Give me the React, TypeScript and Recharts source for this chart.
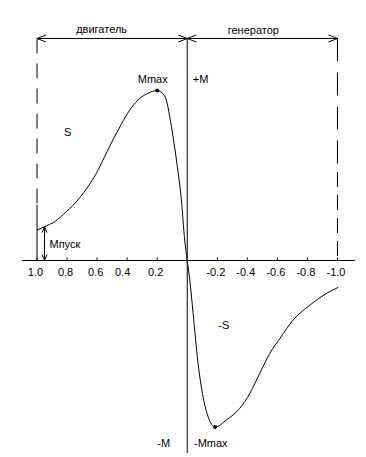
import React from 'react';
import { LineChart, Line, XAxis, YAxis, ReferenceLine, ReferenceDot } from 'recharts';

// slip s (x) and torque M (y, Mmax = 1)
const slip = [1.0, 0.95, 0.883, 0.805, 0.728, 0.661, 0.605, 0.55, 0.495, 0.439, 0.383, 0.328, 0.261, 0.2, 0.15, 0.105, 0.072, 0.039, 0.017, 0,
  -0.017, -0.039, -0.072, -0.105, -0.139, -0.185, -0.261, -0.35, -0.417, -0.483, -0.55, -0.617, -0.705, -0.817, -0.928, -1.005];
const torque = [0.179, 0.199, 0.228, 0.287, 0.356, 0.434, 0.513, 0.611, 0.709, 0.801, 0.885, 0.944, 0.984, 1.0, 0.968, 0.787, 0.591, 0.356, 0.121, 0,
  -0.115, -0.311, -0.605, -0.801, -0.919, -0.98, -0.938, -0.869, -0.781, -0.663, -0.546, -0.458, -0.35, -0.262, -0.193, -0.158];

const tickValues = [1.0, 0.8, 0.6, 0.4, 0.2, -0.2, -0.4, -0.6, -0.8, -1.0];
const tickLabels = ['1.0', '0.8', '0.6', '0.4', '0.2', '-0.2', '-0.4', '-0.6', '-0.8', '-1.0'];

const regionLabels = ['двигатель', 'генератор'];
const regionSlip = [0.57, -0.44];
const regionTorque = [1.338, 1.332];

const maxPoint = { s: 0.2, m: 1.0 };
const minPoint = { s: -0.185, m: -0.98 };
const startArrow = { s: 0.95, m: 0.199 };

const annotationTexts = ['S', '-S', '+M', '-M', 'Mmax', '-Mmax', 'Мпуск'];
const annotationSlip = [0.796, -0.243, -0.037, 0.157, 0.23, -0.157, 0.917];
const annotationTorque = [0.735, -0.403, 1.044, -1.097, 1.044, -1.097, 0.0735];
const annotationAnchor = ['middle', 'middle', 'start', 'middle', 'middle', 'middle', 'start'];

const data = slip.map((s, i) => ({ s, m: torque[i] }));

const X_DOMAIN: [number, number] = [-1.11667, 1.1];
const Y_DOMAIN: [number, number] = [-1.13235, 1.30882];
const TOP_LINE = 1.30588;

const FONT = { fontFamily: '"Liberation Sans", Arial, sans-serif', fontSize: 11, fill: '#000' };

const textShape = (text: string, anchor: string, dx = 0, dy = 0) => (p: any) => (
  <text x={p.cx + dx} y={p.cy + dy} textAnchor={anchor} style={FONT}>{text}</text>
);

const tickShape = (label: string) => (p: any) => (
  <g>
    <line x1={p.cx} y1={p.cy - 3} x2={p.cx} y2={p.cy} stroke="#000" />
    <text x={p.cx - 1.5 + (label === '0.4' ? -3 : 0)} y={p.cy + 15} textAnchor="middle" style={FONT}>{label}</text>
  </g>
);

const arrowLeft = (p: any) => (
  <path d={`M${p.cx + 9},${p.cy - 3.5} L${p.cx},${p.cy} L${p.cx + 9},${p.cy + 3.5}`} fill="none" stroke="#000" />
);
const arrowRight = (p: any) => (
  <path d={`M${p.cx - 9},${p.cy - 3.5} L${p.cx},${p.cy} L${p.cx - 9},${p.cy + 3.5}`} fill="none" stroke="#000" />
);
const arrowBoth = (p: any) => (
  <g>
    {arrowLeft(p)}
    {arrowRight(p)}
  </g>
);
const arrowUp = (p: any) => (
  <path d={`M${p.cx - 2.5},${p.cy + 6} L${p.cx},${p.cy} L${p.cx + 2.5},${p.cy + 6}`} fill="none" stroke="#000" />
);
const arrowDown = (p: any) => (
  <path d={`M${p.cx - 2.5},${p.cy - 6} L${p.cx},${p.cy} L${p.cx + 2.5},${p.cy - 6}`} fill="none" stroke="#000" />
);
const dot = (p: any) => <circle cx={p.cx} cy={p.cy} r={2} fill="#000" />;

export default function App() {
  return (
    <div style={{ position: 'absolute', left: 0, top: 0, background: '#fff' }}>
      <LineChart width={366} height={457} data={data} margin={{ top: 38, right: 11, bottom: 4, left: 22 }}>
        <XAxis type="number" dataKey="s" domain={X_DOMAIN} reversed hide allowDataOverflow />
        <YAxis type="number" domain={Y_DOMAIN} hide allowDataOverflow />

        <ReferenceLine y={0} stroke="#000" ifOverflow="visible" />
        <ReferenceLine x={0} stroke="#000" ifOverflow="visible" />

        {/* dimension line on top */}
        <ReferenceLine segment={[{ x: 1.0, y: TOP_LINE }, { x: -1.0, y: TOP_LINE }]} stroke="#000" ifOverflow="visible" />
        <ReferenceDot x={1.0} y={TOP_LINE} ifOverflow="visible" shape={arrowLeft} />
        <ReferenceDot x={0} y={TOP_LINE} ifOverflow="visible" shape={arrowBoth} />
        <ReferenceDot x={-1.0} y={TOP_LINE} ifOverflow="visible" shape={arrowRight} />

        {/* left boundary s = 1 */}
        <ReferenceLine segment={[{ x: 1.0, y: TOP_LINE }, { x: 1.0, y: 0.327 }]} stroke="#000" strokeDasharray="15 10" ifOverflow="visible" />
        <ReferenceLine segment={[{ x: 1.0, y: 0.327 }, { x: 1.0, y: 0 }]} stroke="#000" ifOverflow="visible" />

        {/* right boundary s = -1 */}
        <ReferenceLine segment={[{ x: -1.0, y: TOP_LINE }, { x: -1.0, y: 0.55 }]} stroke="#000" strokeDasharray="23 11" ifOverflow="visible" />
        <ReferenceLine segment={[{ x: -1.0, y: 0.5206 }, { x: -1.0, y: 0 }]} stroke="#000" strokeDasharray="15 8" ifOverflow="visible" />

        {/* starting torque arrow */}
        <ReferenceLine segment={[{ x: startArrow.s, y: startArrow.m }, { x: startArrow.s, y: 0 }]} stroke="#000" ifOverflow="visible" />
        <ReferenceDot x={startArrow.s} y={startArrow.m} ifOverflow="visible" shape={arrowUp} />
        <ReferenceDot x={startArrow.s} y={0} ifOverflow="visible" shape={arrowDown} />

        {tickValues.map((t, i) => (
          <ReferenceDot key={'t' + i} x={t} y={0} ifOverflow="visible" shape={tickShape(tickLabels[i])} />
        ))}

        {regionLabels.map((txt, i) => (
          <ReferenceDot key={'r' + i} x={regionSlip[i]} y={regionTorque[i]} ifOverflow="visible" shape={textShape(txt, 'middle')} />
        ))}

        {annotationTexts.map((txt, i) => (
          <ReferenceDot key={'a' + i} x={annotationSlip[i]} y={annotationTorque[i]} ifOverflow="visible"
            shape={textShape(txt, annotationAnchor[i])} />
        ))}

        <Line type="monotone" dataKey="m" stroke="#000" strokeWidth={1} dot={false} activeDot={false} isAnimationActive={false} />

        <ReferenceDot x={maxPoint.s} y={maxPoint.m} ifOverflow="visible" shape={dot} />
        <ReferenceDot x={minPoint.s} y={minPoint.m} ifOverflow="visible" shape={dot} />
      </LineChart>
    </div>
  );
}
